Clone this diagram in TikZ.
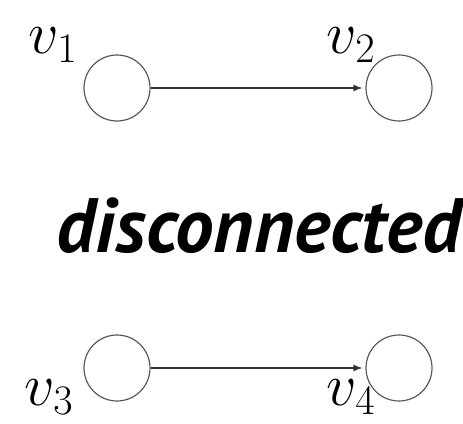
\RequirePackage{fix-cm}
\documentclass[tikz,border=0pt]{standalone}
\usepackage{fontspec}
\newfontfamily\labfont{PT Sans}
\usetikzlibrary{arrows.meta}
\begin{document}
\begin{tikzpicture}[x=1pt,y=-1pt,
  vert/.style={circle,draw=black!65,line width=1.2pt,minimum size=66pt,inner sep=0pt},
  vlab/.style={inner sep=0pt,font=\fontsize{60}{66}\selectfont},
  edge/.style={draw=black!80,line width=1.4pt,-{Latex[length=9pt,width=7pt]},shorten >=3pt}]
\useasboundingbox (0,0) rectangle (463,423);
\node[vert] (a) at (117,88) {};
\node[vert] (b) at (399,88) {};
\node[vert] (c) at (117,368) {};
\node[vert] (d) at (399,368) {};
\node[vlab] (la) at (53,45) {$v_1$};
\node[vlab] (lb) at (351,45) {$v_2$};
\node[vlab] (lc) at (49,397) {$v_3$};
\node[vlab] (ld) at (351,397) {$v_4$};
\draw[edge] (a) -- (b);
\draw[edge] (c) -- (d);
\node[anchor=base,inner sep=0pt,font=\labfont\bfseries\itshape\fontsize{77}{80}\selectfont] (t) at (259,252) {disconnected};
\end{tikzpicture}
\end{document}
